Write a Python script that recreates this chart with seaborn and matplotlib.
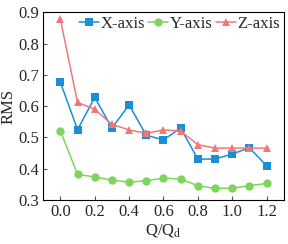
import matplotlib
matplotlib.use("Agg")
import matplotlib.pyplot as plt
import pandas as pd
import numpy as np
import seaborn as sns

q = [0.0, 0.1, 0.2, 0.3, 0.4, 0.5, 0.6, 0.7, 0.8, 0.9, 1.0, 1.1, 1.2]
x_axis = [0.676, 0.525, 0.628, 0.530, 0.604, 0.507, 0.492, 0.530, 0.431, 0.431, 0.447, 0.467, 0.410]
y_axis = [0.521, 0.382, 0.374, 0.364, 0.357, 0.362, 0.370, 0.367, 0.346, 0.337, 0.338, 0.346, 0.353]
z_axis = [0.877, 0.612, 0.590, 0.542, 0.524, 0.513, 0.524, 0.521, 0.477, 0.466, 0.466, 0.466, 0.466]

df = pd.DataFrame({"Q": q * 3,
                   "RMS": x_axis + y_axis + z_axis,
                   "axis": ["X-axis"] * 13 + ["Y-axis"] * 13 + ["Z-axis"] * 13})

sns.set_style("ticks")
plt.rcParams["font.family"] = ["Liberation Serif", "DejaVu Serif"]
plt.rcParams["mathtext.fontset"] = "stix"

fig, ax = plt.subplots(figsize=(2.88, 2.44), dpi=100)
colors = {"X-axis": "#1a8fd6", "Y-axis": "#7dd65a", "Z-axis": "#f07878"}
markers = {"X-axis": "s", "Y-axis": "o", "Z-axis": "^"}
sns.lineplot(data=df, x="Q", y="RMS", hue="axis", style="axis", palette=colors,
             markers=markers, dashes=False, markersize=6, markeredgewidth=0,
             linewidth=1.1, ax=ax)

ax.set_xlim(-0.1, 1.3)
ax.set_ylim(0.3, 0.9)
ax.set_xticks([0.0, 0.2, 0.4, 0.6, 0.8, 1.0, 1.2])
ax.set_yticks([0.3, 0.4, 0.5, 0.6, 0.7, 0.8, 0.9])
ax.tick_params(labelsize=12, direction="in", length=3, width=0.8, color="#555555", pad=3)
ax.set_xlabel("Q/Q$_\\mathrm{d}$", fontsize=12, labelpad=1)
ax.set_ylabel("RMS", fontsize=12, labelpad=1)
for s in ax.spines.values():
    s.set_color("black")
    s.set_linewidth(0.8)

ax.legend(ncol=3, loc="upper right", frameon=False, fontsize=12, handlelength=1.2,
          handletextpad=0.1, columnspacing=0.2, borderaxespad=0.0, borderpad=0.2)

fig.subplots_adjust(left=0.15, right=0.985, top=0.95, bottom=0.18)
fig.savefig("out.png", dpi=100)
